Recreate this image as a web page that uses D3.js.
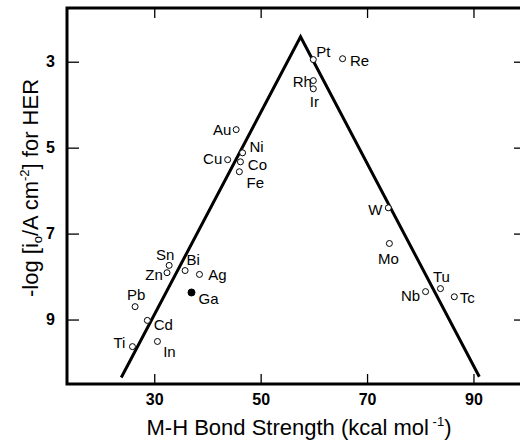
<!DOCTYPE html>
<html>
<head>
<meta charset="utf-8">
<script src="https://cdn.jsdelivr.net/npm/d3@7"></script>
<style>
  html, body { margin: 0; padding: 0; background: #fff; }
  svg { display: block; font-family: "Liberation Sans", Arial, Helvetica, sans-serif; }
</style>
</head>
<body>
<svg id="chart" width="520" height="441"></svg>
<script>
// Metals: M-H bond strength (kcal/mol) vs -log exchange current density for HER
const metals   = ["Pt", "Re", "Rh", "Ir", "Au", "Ni", "Cu", "Co", "Fe", "W", "Mo",
                  "Sn", "Zn", "Bi", "Ag", "Ga", "Pb", "Cd", "Ti", "In", "Tu", "Nb", "Tc"];
const bondStrength = [59.9, 65.4, 59.9, 59.9, 45.4, 46.6, 43.8, 46.2, 46.0, 74.0, 74.2,
                      32.8, 32.4, 35.8, 38.5, 37.0, 26.4, 28.7, 25.9, 30.6, 83.8, 81.0, 86.4];
const negLogI0 = [2.95, 2.93, 3.44, 3.63, 4.58, 5.12, 5.28, 5.33, 5.56, 6.40, 7.23,
                  7.74, 7.91, 7.86, 7.95, 8.37, 8.70, 9.02, 9.63, 9.51, 8.28, 8.35, 8.47];
const filled   = ["Ga"];

// Volcano envelope: left foot, apex, right foot
const volcanoX = [23.8, 57.5, 91.1];
const volcanoY = [10.35, 2.42, 10.33];

const xTicks = [30, 50, 70, 90];
const yTicks = [3, 5, 7, 9];

const svg = d3.select("#chart");
const plotL = 67, plotR = 524, plotT = 8, plotB = 384;

const x = d3.scaleLinear().domain([13.6, 99.5]).range([plotL, plotR]);
const y = d3.scaleLinear().domain([1.75, 10.5]).range([plotT, plotB]);

// axes with inward ticks on all four sides
function styleAxis(g) {
  g.select(".domain").remove();
  g.selectAll(".tick line").attr("stroke", "#000").attr("stroke-width", 1.3);
}
svg.append("g").attr("transform", `translate(0,${plotB})`)
  .call(d3.axisBottom(x).tickValues(xTicks).tickSize(-10).tickPadding(10))
  .call(styleAxis)
  .selectAll("text").attr("font-size", 16).attr("font-weight", "bold").attr("fill", "#000")
  .attr("font-family", "Liberation Sans, Arial, sans-serif");
svg.append("g").attr("transform", `translate(0,${plotT})`)
  .call(d3.axisTop(x).tickValues(xTicks).tickSize(-10).tickFormat(""))
  .call(styleAxis);
svg.append("g").attr("transform", `translate(${plotL},0)`)
  .call(d3.axisLeft(y).tickValues(yTicks).tickSize(-12).tickPadding(12))
  .call(styleAxis)
  .selectAll("text").attr("font-size", 16).attr("font-weight", "bold").attr("fill", "#000")
  .attr("font-family", "Liberation Sans, Arial, sans-serif");
svg.append("g").attr("transform", `translate(${plotR},0)`)
  .call(d3.axisRight(y).tickValues(yTicks).tickSize(-10).tickFormat(""))
  .call(styleAxis);

// frame
svg.append("rect")
  .attr("x", plotL).attr("y", plotT)
  .attr("width", plotR - plotL).attr("height", plotB - plotT)
  .attr("fill", "none").attr("stroke", "#000").attr("stroke-width", 3);

// volcano lines
const line = d3.line().x(d => x(d[0])).y(d => y(d[1]));
svg.append("path")
  .datum(d3.zip(volcanoX, volcanoY))
  .attr("d", line)
  .attr("fill", "none").attr("stroke", "#000").attr("stroke-width", 3)
  .attr("stroke-linejoin", "miter");

// points
const pts = metals.map((m, i) => ({ m, bx: bondStrength[i], ly: negLogI0[i] }));
svg.append("g").selectAll("circle").data(pts).join("circle")
  .attr("cx", d => x(d.bx)).attr("cy", d => y(d.ly))
  .attr("r", d => filled.includes(d.m) ? 3.5 : 3)
  .attr("fill", d => filled.includes(d.m) ? "#000" : "#fff")
  .attr("stroke", "#000").attr("stroke-width", 1);

// label placement around each point (pixels)
const labelOffset = {
  Pt: [10, -8], Re: [17, 2], Rh: [-11, 1], Ir: [1, 13], Au: [-14, 0], Ni: [14, -6],
  Cu: [-15, -1], Co: [17, 3], Fe: [16, 11], W: [-13, 2], Mo: [-1, 15], Sn: [-4, -11],
  Zn: [-13, 2], Bi: [8, -11], Ag: [18, 0], Ga: [17, 6], Pb: [1, -12], Cd: [16, 4],
  Ti: [-13, -4], In: [12, 10], Tu: [1, -12], Nb: [-15, 4], Tc: [13, 1]
};
svg.append("g").selectAll("text").data(pts).join("text")
  .attr("x", d => x(d.bx) + labelOffset[d.m][0])
  .attr("y", d => y(d.ly) + labelOffset[d.m][1])
  .attr("text-anchor", "middle").attr("dominant-baseline", "central")
  .attr("font-size", 15).attr("fill", "#000")
  .text(d => d.m);

// axis titles
const xt = svg.append("text")
  .attr("x", 299).attr("y", 435).attr("text-anchor", "middle")
  .attr("font-size", 22).attr("fill", "#000");
xt.append("tspan").text("M-H Bond Strength (kcal mol");
xt.append("tspan").attr("font-size", 13).attr("dy", -9).text(" -1");
xt.append("tspan").attr("dy", 9).text(")");

const yt = svg.append("text")
  .attr("transform", "translate(38,188) rotate(-90)")
  .attr("text-anchor", "middle")
  .attr("font-size", 22).attr("fill", "#000");
yt.append("tspan").text("-log [i");
yt.append("tspan").attr("font-size", 13).attr("dy", 4).text("o");
yt.append("tspan").attr("dy", -4).text("/A cm");
yt.append("tspan").attr("font-size", 13).attr("dy", -9).text("-2");
yt.append("tspan").attr("dy", 9).text("] for HER");
</script>
</body>
</html>
